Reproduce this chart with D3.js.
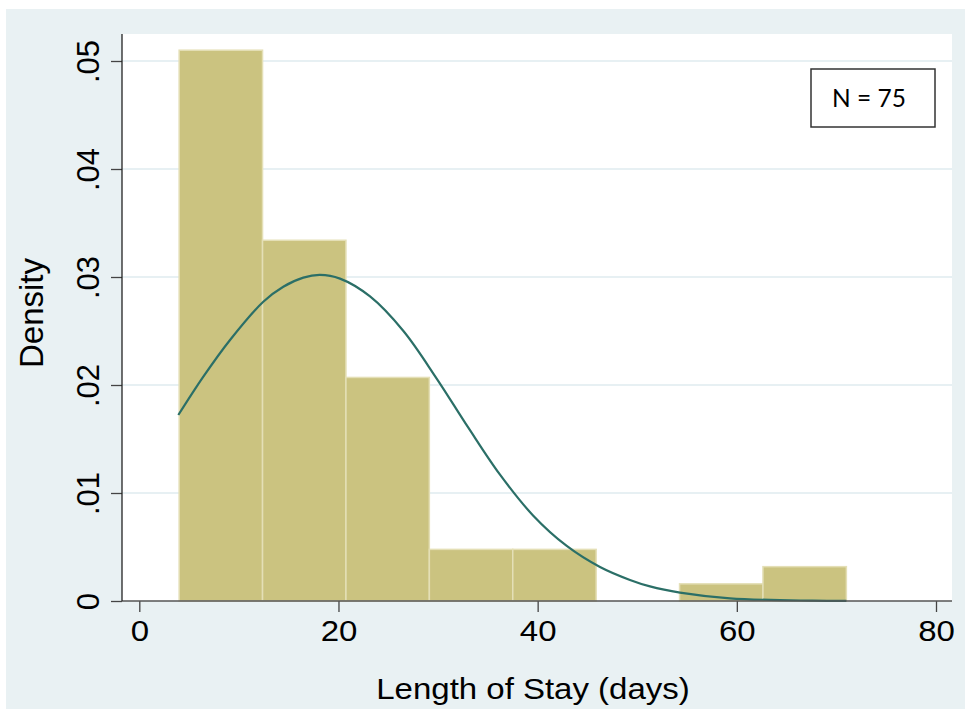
<!DOCTYPE html>
<html>
<head>
<meta charset="utf-8">
<script src="https://cdn.jsdelivr.net/npm/d3@7"></script>
<style>
  html, body { margin: 0; padding: 0; background: #ffffff; }
  svg { display: block; }
</style>
</head>
<body>
<svg id="chart" width="966" height="710"></svg>
<script>
// ---- data ----
const binEdges = [4, 12.375, 20.75, 29.125, 37.5, 45.875, 54.25, 62.625, 71];
const binDensity = [0.0510, 0.0334, 0.0207, 0.00478, 0.00478, 0, 0.00159, 0.00318];
const curveX = [3.92, 6.43, 9.11, 12.45, 14.46, 16.47, 18.14, 20.15, 23.17, 26.52, 29.86, 33.04, 36.22, 39.56, 42.92, 46.26, 49.27, 51.28, 54.29, 59.31, 67.65, 71];
const curveY = [0.01722, 0.02077, 0.02417, 0.02771, 0.02910, 0.02994, 0.03019, 0.02985, 0.02820, 0.02500, 0.02060, 0.01605, 0.01170, 0.00790, 0.00510, 0.00315, 0.00195, 0.00135, 0.00078, 0.00025, 0.00003, 0.00001];
const xTicks = [0, 20, 40, 60, 80];
const yTicks = [0, 0.01, 0.02, 0.03, 0.04, 0.05];
const yTickLabels = ["0", ".01", ".02", ".03", ".04", ".05"];
const xTitle = "Length of Stay (days)";
const yTitle = "Density";
const noteText = "N = 75";

// ---- layout ----
const svg = d3.select("#chart");
const plot = { left: 122, right: 952, top: 34, bottom: 601 };
const x = d3.scaleLinear().domain([0, 80]).range([139.3, 936]);
const y = d3.scaleLinear().domain([0, 0.05]).range([601, 61]);

// outer background
svg.append("rect").attr("x", 6).attr("y", 9).attr("width", 959).attr("height", 700)
  .attr("fill", "#e9f1f3");
// plot region
svg.append("rect").attr("x", plot.left).attr("y", plot.top)
  .attr("width", plot.right - plot.left).attr("height", plot.bottom - plot.top)
  .attr("fill", "#ffffff");

// gridlines
svg.append("g").selectAll("line").data(yTicks.filter(d => d > 0)).join("line")
  .attr("x1", plot.left).attr("x2", plot.right)
  .attr("y1", d => y(d)).attr("y2", d => y(d))
  .attr("stroke", "#e7f0f3").attr("stroke-width", 2);

// bars
const bins = binDensity.map((d, i) => ({ x0: binEdges[i], x1: binEdges[i + 1], d }));
svg.append("g").selectAll("rect").data(bins.filter(b => b.d > 0)).join("rect")
  .attr("x", b => x(b.x0)).attr("width", b => x(b.x1) - x(b.x0))
  .attr("y", b => y(b.d)).attr("height", b => y(0) - y(b.d))
  .attr("fill", "#cbc380").attr("stroke", "#e4dfb6").attr("stroke-width", 1.5);

// density curve
const pts = curveX.map((v, i) => [v, curveY[i]]);
svg.append("path").datum(pts)
  .attr("d", d3.line().x(d => x(d[0])).y(d => y(d[1])).curve(d3.curveCatmullRom.alpha(0.5)))
  .attr("fill", "none").attr("stroke", "#2b6f67").attr("stroke-width", 2.2);

// x axis
const xAxis = svg.append("g").attr("transform", `translate(0,${plot.bottom})`)
  .call(d3.axisBottom(x).tickValues(xTicks).tickSize(11).tickPadding(8).tickFormat(d3.format("d")));
xAxis.select(".domain").remove();
xAxis.selectAll(".tick line").attr("stroke", "#444").attr("stroke-width", 1.3);
xAxis.selectAll(".tick text")
  .attr("font-family", "'Liberation Sans', Arial, sans-serif").attr("font-size", 30)
  .attr("fill", "#000").attr("transform", "scale(1.1,1)");
svg.append("line").attr("x1", plot.left).attr("x2", plot.right)
  .attr("y1", plot.bottom).attr("y2", plot.bottom)
  .attr("stroke", "#555").attr("stroke-width", 1.5);

// y axis
const yAxis = svg.append("g").attr("transform", `translate(${plot.left},0)`)
  .call(d3.axisLeft(y).tickValues(yTicks).tickSize(11)
    .tickFormat((d, i) => yTickLabels[i]));
yAxis.select(".domain").remove();
yAxis.selectAll(".tick line").attr("stroke", "#444").attr("stroke-width", 1.3);
yAxis.selectAll(".tick text")
  .attr("font-family", "'Liberation Sans', Arial, sans-serif").attr("font-size", 31)
  .attr("fill", "#000")
  .attr("x", null).attr("dy", null)
  .attr("text-anchor", "middle")
  .attr("transform", "translate(-23,0) rotate(-90)");
svg.append("line").attr("x1", plot.left).attr("x2", plot.left)
  .attr("y1", plot.top).attr("y2", plot.bottom)
  .attr("stroke", "#222").attr("stroke-width", 1.3);

// axis titles
svg.append("text").attr("transform", "translate(533,699) scale(1.1,1)")
  .attr("text-anchor", "middle")
  .attr("font-family", "'Liberation Sans', Arial, sans-serif").attr("font-size", 30)
  .attr("fill", "#000").text(xTitle);
svg.append("text").attr("transform", "translate(43,313) rotate(-90)")
  .attr("text-anchor", "middle")
  .attr("font-family", "'Liberation Sans', Arial, sans-serif").attr("font-size", 33)
  .attr("fill", "#000").text(yTitle);

// note box
svg.append("rect").attr("x", 811).attr("y", 69).attr("width", 124).attr("height", 58)
  .attr("fill", "#ffffff").attr("stroke", "#333").attr("stroke-width", 1.5);
svg.append("text").attr("x", 869).attr("y", 107).attr("text-anchor", "middle")
  .attr("font-family", "Lato, 'Open Sans', sans-serif").attr("font-size", 24.5)
  .attr("fill", "#000").text(noteText);
</script>
</body>
</html>
